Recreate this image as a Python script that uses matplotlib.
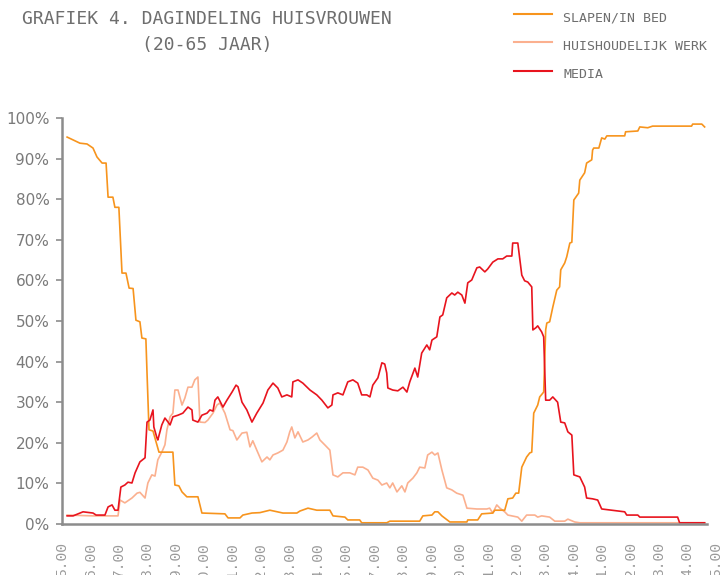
import matplotlib.pyplot as plt
from matplotlib.lines import Line2D

# hour labels along the x axis (one tick per label, as in the original)
hour_labels = ['5.00', '6.00', '7.00', '8.00', '9.00', '10.00', '11.00', '12.00',
               '13.00', '14.00', '15.00', '17.00', '18.00', '19.00', '20.00', '21.00',
               '22.00', '23.00', '24.00', '1.00', '2.00', '3.00', '4.00', '5.00']

# x positions in tick units, y in percent
sleep_x = [0.18, 0.63, 0.88, 1.09, 1.23, 1.41, 1.55, 1.62, 1.79, 1.86, 2.00, 2.11, 2.25,
           2.36, 2.50, 2.60, 2.74, 2.81, 2.95, 2.99, 3.06, 3.20, 3.41, 3.90, 3.97, 4.11,
           4.22, 4.39, 4.78, 4.92, 5.73, 5.84, 6.26, 6.36, 6.68, 6.96, 7.31, 7.77, 8.26,
           8.37, 8.65, 8.96, 9.42, 9.53, 9.95, 10.05, 10.47, 10.54, 11.42, 11.53, 12.58,
           12.69, 13.01, 13.11, 13.22, 13.36, 13.64, 14.24, 14.27, 14.62, 14.76, 15.15,
           15.22, 15.57, 15.68, 15.85, 15.96, 16.06, 16.17, 16.34, 16.45, 16.52, 16.59,
           16.73, 16.80, 16.94, 17.01, 17.05, 17.15, 17.26, 17.40, 17.50, 17.54, 17.68,
           17.75, 17.86, 17.93, 18.00, 18.10, 18.17, 18.21, 18.38, 18.45, 18.63, 18.66,
           18.70, 18.88, 18.98, 19.09, 19.16, 19.79, 19.82, 20.25, 20.32, 20.60, 20.77,
           22.14, 22.18, 22.50, 22.60]
sleep_y = [95.3, 93.8, 93.6, 92.6, 90.4, 88.9, 88.9, 80.5, 80.5, 78.0, 78.0, 61.8, 61.8,
           58.1, 58.0, 50.2, 49.8, 45.8, 45.6, 37.2, 23.2, 22.9, 17.7, 17.7, 9.6, 9.4,
           7.9, 6.7, 6.7, 2.7, 2.5, 1.5, 1.5, 2.2, 2.7, 2.8, 3.4, 2.7, 2.7,
           3.2, 3.9, 3.4, 3.4, 2.0, 1.7, 1.0, 1.0, 0.3, 0.3, 0.7, 0.7,
           2.0, 2.2, 3.0, 3.0, 2.0, 0.5, 0.5, 1.0, 1.0, 2.5, 2.7,
           3.4, 3.4, 6.2, 6.4, 7.6, 7.6, 14.0, 16.5, 17.5, 17.7, 27.3,
           29.3, 31.3, 32.5, 47.8, 49.5, 49.8, 53.4, 57.6, 58.4, 62.6, 64.3,
           65.8, 69.2, 69.4, 79.8, 80.8, 81.5, 84.7, 86.5, 88.9, 89.7, 92.1,
           92.6, 92.6, 95.1, 94.8, 95.6, 95.6, 96.6, 96.8, 97.8, 97.6, 98.0,
           98.0, 98.5, 98.5, 97.8]

house_x = [0.18, 1.09, 1.97, 2.04, 2.21, 2.46, 2.64, 2.74, 2.92, 3.02, 3.16, 3.27, 3.37,
           3.51, 3.62, 3.69, 3.80, 3.90, 3.97, 4.08, 4.22, 4.32, 4.43, 4.57, 4.67, 4.78,
           4.85, 5.03, 5.13, 5.31, 5.45, 5.55, 5.73, 5.91, 6.01, 6.15, 6.33, 6.50, 6.61,
           6.71, 6.85, 7.03, 7.21, 7.31, 7.42, 7.59, 7.77, 7.91, 8.01, 8.08, 8.19, 8.30,
           8.47, 8.65, 8.79, 8.96, 9.07, 9.24, 9.42, 9.53, 9.70, 9.88, 10.12, 10.30, 10.40,
           10.58, 10.76, 10.93, 11.11, 11.25, 11.42, 11.53, 11.63, 11.78, 11.95, 12.06,
           12.16, 12.34, 12.48, 12.58, 12.76, 12.86, 13.01, 13.11, 13.22, 13.36, 13.53,
           13.71, 13.88, 14.10, 14.24, 14.59, 14.94, 15.04, 15.15, 15.29, 15.40, 15.57,
           15.68, 16.03, 16.17, 16.34, 16.63, 16.73, 16.87, 17.15, 17.33, 17.68, 17.79,
           18.03, 18.21, 22.60]
house_y = [2.2, 2.0, 2.0, 5.9, 5.2, 6.4, 7.6, 7.8, 6.4, 10.1, 12.1, 11.8, 15.8,
           17.7, 19.5, 23.2, 26.4, 27.3, 33.0, 33.0, 29.3, 31.0, 33.7, 33.7, 35.5, 36.2,
           25.1, 25.0, 25.6, 27.3, 29.3, 29.8, 27.3, 23.2, 23.0, 20.7, 22.4, 22.6, 19.0,
           20.5, 18.2, 15.3, 16.5, 15.8, 17.0, 17.5, 18.2, 20.2, 22.7, 23.9, 21.2, 22.7,
           20.2, 20.7, 21.4, 22.4, 20.7, 19.5, 18.2, 12.1, 11.6, 12.6, 12.6, 12.1, 14.0,
           14.0, 13.3, 11.3, 10.8, 9.6, 10.1, 8.9, 10.1, 7.9, 9.4, 7.9,
           10.1, 11.3, 12.6, 14.0, 13.8, 17.0, 17.7, 17.0, 17.5, 13.3, 8.9,
           8.4, 7.6, 7.1, 3.9, 3.7, 3.7, 3.9, 2.7, 4.7, 3.9, 3.0,
           2.2, 1.7, 0.7, 2.2, 2.2, 1.7, 2.0, 1.7, 0.7, 0.7, 1.2,
           0.5, 0.3, 0.3]

media_x = [0.18, 0.39, 0.63, 0.74, 1.09, 1.20, 1.51, 1.62, 1.76, 1.86, 1.97, 2.07, 2.21,
           2.32, 2.46, 2.57, 2.74, 2.92, 2.99, 3.09, 3.20, 3.23, 3.34, 3.37, 3.51, 3.62,
           3.73, 3.80, 3.90, 4.08, 4.25, 4.43, 4.57, 4.60, 4.78, 4.92, 5.10, 5.20, 5.31,
           5.38, 5.48, 5.66, 5.80, 5.98, 6.12, 6.19, 6.33, 6.50, 6.68, 6.85, 7.07, 7.24,
           7.42, 7.59, 7.73, 7.91, 8.08, 8.12, 8.30, 8.47, 8.72, 8.96, 9.14, 9.35, 9.49,
           9.53, 9.70, 9.88, 10.05, 10.23, 10.40, 10.54, 10.72, 10.83, 10.93, 11.11, 11.25,
           11.35, 11.42, 11.46, 11.63, 11.81, 11.99, 12.13, 12.23, 12.41, 12.51, 12.65,
           12.83, 12.93, 13.01, 13.18, 13.29, 13.39, 13.53, 13.71, 13.81, 13.92, 14.06,
           14.17, 14.27, 14.41, 14.59, 14.69, 14.87, 14.97, 15.15, 15.33, 15.50, 15.64,
           15.82, 15.85, 16.03, 16.17, 16.27, 16.38, 16.52, 16.56, 16.66, 16.73, 16.87,
           16.94, 17.01, 17.15, 17.26, 17.43, 17.54, 17.68, 17.79, 17.93, 18.00, 18.21,
           18.38, 18.45, 18.66, 18.84, 18.98, 19.79, 19.86, 20.25, 20.32, 21.65, 21.72,
           22.60]
media_y = [2.0, 2.0, 2.7, 3.0, 2.7, 2.2, 2.2, 4.2, 4.7, 3.4, 3.4, 9.1, 9.6,
           10.3, 10.1, 12.6, 15.3, 16.3, 25.1, 25.6, 28.1, 23.9, 21.2, 20.7, 24.4, 26.1,
           25.1, 24.4, 26.4, 26.8, 27.3, 28.8, 28.1, 25.6, 25.1, 26.8, 27.3, 28.1, 27.8,
           30.5, 31.3, 28.8, 30.5, 32.5, 34.2, 33.8, 30.0, 28.1, 25.1, 27.3, 29.8, 33.0,
           34.7, 33.5, 31.3, 31.8, 31.3, 35.0, 35.5, 34.7, 33.0, 31.8, 30.5, 28.6, 29.3,
           31.8, 32.3, 31.8, 35.0, 35.5, 34.7, 31.8, 31.8, 31.3, 34.2, 36.0, 39.7,
           39.4, 37.2, 33.5, 33.0, 32.8, 33.7, 32.5, 35.0, 38.4, 36.2, 42.1,
           44.1, 42.9, 45.3, 46.1, 51.0, 51.5, 55.7, 56.9, 56.4, 57.1, 56.4,
           54.4, 59.4, 60.1, 63.1, 63.3, 62.1, 62.8, 64.5, 65.3, 65.3, 66.0,
           66.0, 69.2, 69.2, 61.3, 59.9, 59.6, 58.4, 47.8, 48.3, 48.8, 47.3,
           46.1, 30.5, 30.5, 31.3, 30.0, 25.1, 24.9, 22.7, 21.9, 12.1, 11.6,
           9.1, 6.4, 6.2, 5.9, 3.7, 3.0, 2.2, 2.2, 1.7, 1.7, 0.3,
           0.3]

series_names = ['SLAPEN/IN BED', 'HUISHOUDELIJK WERK', 'MEDIA']
series_colors = ['#F7941D', '#FBB08F', '#E8141E']

grey = '#7a7a7a'

fig = plt.figure(figsize=(7.23, 5.75), dpi=100)
ax = fig.add_axes([62 / 723, 51 / 575, 654 / 723, 406 / 575])

ax.plot(house_x, house_y, color=series_colors[1], lw=1.2)
ax.plot(sleep_x, sleep_y, color=series_colors[0], lw=1.2)
ax.plot(media_x, media_y, color=series_colors[2], lw=1.2)

ax.set_xlim(0, 23)
ax.set_ylim(0, 100)
ax.set_xticks(range(len(hour_labels)))
ax.set_xticklabels(hour_labels, rotation=90, family='Liberation Mono',
                   fontsize=10.5, color='#9a9a9a')
ax.tick_params(axis='x', length=0, pad=13)
ax.set_yticks(range(0, 101, 10))
ax.set_yticklabels([f'{v}%' for v in range(0, 101, 10)], fontsize=11, color=grey)
ax.tick_params(axis='y', length=4, width=1.2, color='#8c8c8c', pad=5)

for side in ['top', 'right']:
    ax.spines[side].set_visible(False)
for side in ['left', 'bottom']:
    ax.spines[side].set_color('#8c8c8c')
    ax.spines[side].set_linewidth(1.8)
ax.spines['bottom'].set_bounds(0, 22.7)

# title
fig.text(207 / 723, 1 - 32 / 575, 'GRAFIEK 4. DAGINDELING HUISVROUWEN\n(20-65 JAAR)',
         ha='center', va='center', family='DejaVu Sans Mono', fontsize=13,
         color='#6e6e6e', linespacing=1.6)

# legend drawn by hand at the top right
legend_y = [14, 42, 71]
for name, col, yy in zip(series_names, series_colors, legend_y):
    fy = 1 - yy / 575
    fig.add_artist(Line2D([514 / 723, 552 / 723], [fy, fy], color=col, lw=1.5))
    fig.text(563 / 723, 1 - (yy + 4) / 575, name, ha='left', va='center',
             family='DejaVu Sans Mono', fontsize=9.5, color='#6e6e6e')

fig.savefig('out.png', dpi=100)
